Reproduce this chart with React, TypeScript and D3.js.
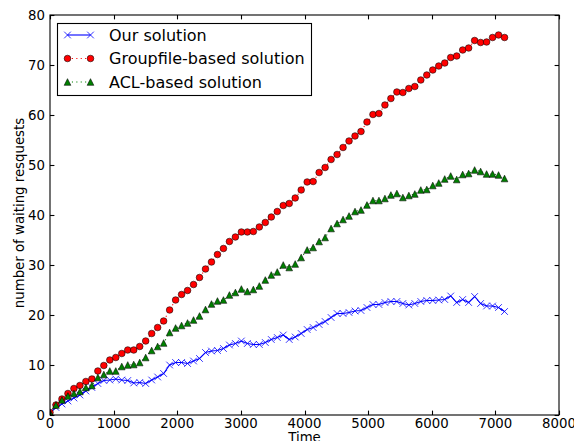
import { useEffect, useRef } from "react";
import * as d3 from "d3";

// sampling interval of the measurements (time units between points)
const timeStep = 94;

const ourSolution = [
  0.5, 1.5, 2.2, 2.8, 3.4, 4.0, 4.8, 5.5, 6.3, 6.9, 7.0, 7.2, 7.0, 6.9, 6.4, 6.5,
  6.3, 7.0, 7.6, 8.3, 10.0, 10.5, 10.5, 10.3, 10.8, 11.3, 12.5, 12.8, 12.9, 13.3,
  14.0, 14.3, 14.8, 14.3, 14.1, 14.1, 14.5, 15.1, 15.5, 16.0, 15.1, 15.6, 16.3,
  17.1, 17.5, 18.1, 18.7, 19.5, 20.3, 20.3, 20.5, 20.8, 20.9, 21.5, 22.1, 22.1,
  22.5, 22.7, 22.7, 22.3, 22.0, 22.3, 22.7, 22.9, 22.9, 23.0, 23.1, 23.8, 22.5,
  23.1, 22.5, 23.7, 22.3, 21.8, 21.8, 21.5, 20.7,
];

const groupfileSolution = [
  0.5, 2.0, 3.2, 4.3, 5.3, 5.9, 6.7, 7.2, 8.8, 9.9, 11.0, 11.5, 12.3, 13.0, 13.0,
  13.7, 14.8, 16.3, 17.5, 18.8, 21.0, 23.0, 24.1, 24.9, 26.1, 27.5, 29.2, 30.6,
  32.1, 33.3, 34.7, 35.6, 36.6, 36.6, 36.7, 37.6, 38.5, 39.6, 40.7, 41.9, 42.3,
  43.4, 45.0, 46.6, 46.7, 48.5, 49.5, 51.1, 52.1, 53.5, 54.8, 55.8, 56.7, 58.6,
  60.1, 60.3, 62.0, 63.3, 64.6, 64.5, 65.3, 65.7, 67.0, 68.0, 69.0, 69.8, 70.4,
  71.5, 71.8, 73.0, 73.4, 74.9, 74.5, 74.6, 75.5, 76.0, 75.5,
];

const aclSolution = [
  0.5, 2.0, 3.0, 3.8, 4.3, 4.7, 5.5, 5.9, 7.5, 8.1, 8.8, 8.8, 9.7, 10.0, 10.1,
  10.5, 11.5, 12.9, 13.7, 14.4, 16.5, 17.4, 17.9, 18.4, 19.0, 19.8, 21.1, 22.2,
  22.8, 23.0, 24.0, 24.5, 25.2, 24.7, 25.1, 25.8, 27.0, 28.0, 28.6, 30.0, 29.5,
  30.2, 31.5, 33.0, 33.5, 34.7, 35.5, 37.3, 38.3, 39.1, 39.8, 40.7, 41.0, 42.0,
  42.9, 42.9, 43.3, 44.0, 44.3, 43.5, 43.9, 44.2, 45.0, 45.1, 45.9, 46.4, 47.2,
  47.8, 47.1, 48.1, 48.3, 49.0, 48.7, 48.2, 48.2, 48.0, 47.3,
];

const seriesNames = ["Our solution", "Groupfile-based solution", "ACL-based solution"];
const xTicks = [0, 1000, 2000, 3000, 4000, 5000, 6000, 7000, 8000];
const yTicks = [0, 10, 20, 30, 40, 50, 60, 70, 80];

type Marker = "x" | "o" | "^";
type Series = { name: string; values: number[]; color: string; marker: Marker; dash: string | null };

const FONT = "'DejaVu Sans', sans-serif";

function drawMarker(
  g: d3.Selection<SVGGElement, unknown, null, undefined>,
  kind: Marker,
  cx: number,
  cy: number,
  color: string
) {
  const r = 3.33;
  if (kind === "x") {
    g.append("path")
      .attr("d", `M${cx - r},${cy - r}L${cx + r},${cy + r}M${cx - r},${cy + r}L${cx + r},${cy - r}`)
      .attr("stroke", color)
      .attr("stroke-width", 0.8)
      .attr("fill", "none");
  } else if (kind === "o") {
    g.append("circle")
      .attr("cx", cx)
      .attr("cy", cy)
      .attr("r", r)
      .attr("fill", color)
      .attr("stroke", "#000")
      .attr("stroke-width", 0.55);
  } else {
    g.append("path")
      .attr("d", `M${cx},${cy - r}L${cx - r},${cy + r}L${cx + r},${cy + r}Z`)
      .attr("fill", color)
      .attr("stroke", "#000")
      .attr("stroke-width", 0.55);
  }
}

function WaitingChart() {
  const ref = useRef<SVGSVGElement>(null);

  useEffect(() => {
    if (!ref.current) return;
    const width = 574;
    const height = 441;
    const margin = { top: 15, right: 15, bottom: 26, left: 50 };
    const innerWidth = width - margin.left - margin.right;
    const innerHeight = height - margin.top - margin.bottom;

    const root = d3.select(ref.current);
    root.selectAll("*").remove();
    root.attr("width", width).attr("height", height);

    root.append("rect").attr("width", width).attr("height", height).attr("fill", "#fff");

    const svg = root.append("g").attr("transform", `translate(${margin.left},${margin.top})`);

    const x = d3.scaleLinear().domain([0, 8000]).range([0, innerWidth]);
    const y = d3.scaleLinear().domain([0, 80]).range([innerHeight, 0]);

    svg
      .append("clipPath")
      .attr("id", "plot-clip")
      .append("rect")
      .attr("width", innerWidth)
      .attr("height", innerHeight);

    const series: Series[] = [
      { name: seriesNames[0], values: ourSolution, color: "#0000ff", marker: "x", dash: null },
      { name: seriesNames[1], values: groupfileSolution, color: "#ff0000", marker: "o", dash: "1.1,3.3" },
      { name: seriesNames[2], values: aclSolution, color: "#008000", marker: "^", dash: "1.1,3.3" },
    ];

    const plot = svg.append("g").attr("clip-path", "url(#plot-clip)");

    series.forEach((s) => {
      const pts: [number, number][] = s.values.map((v, i) => [i * timeStep, v]);
      const line = d3
        .line<[number, number]>()
        .x((d) => x(d[0]))
        .y((d) => y(d[1]));
      plot
        .append("path")
        .datum(pts)
        .attr("fill", "none")
        .attr("stroke", s.color)
        .attr("stroke-width", 1.1)
        .attr("stroke-dasharray", s.dash)
        .attr("d", line);
      const mg = plot.append("g");
      pts.forEach((d) => drawMarker(mg, s.marker, x(d[0]), y(d[1]), s.color));
    });

    // frame and inward ticks on all four sides
    const tickLen = 4.4;
    const frame = svg.append("g").attr("stroke", "#000").attr("stroke-width", 1.1);
    xTicks.forEach((t) => {
      const px = Math.round(x(t)) + 0.5;
      frame.append("line").attr("x1", px).attr("x2", px).attr("y1", innerHeight).attr("y2", innerHeight - tickLen);
      frame.append("line").attr("x1", px).attr("x2", px).attr("y1", 0).attr("y2", tickLen);
    });
    yTicks.forEach((t) => {
      const py = Math.round(y(t)) + 0.5;
      frame.append("line").attr("x1", 0).attr("x2", tickLen).attr("y1", py).attr("y2", py);
      frame.append("line").attr("x1", innerWidth).attr("x2", innerWidth - tickLen).attr("y1", py).attr("y2", py);
    });
    frame
      .append("rect")
      .attr("x", 0)
      .attr("y", 0)
      .attr("width", innerWidth)
      .attr("height", innerHeight)
      .attr("fill", "none");

    const labels = svg.append("g").attr("font-family", FONT).attr("font-size", 13.3).attr("fill", "#000");
    xTicks.forEach((t) => {
      labels
        .append("text")
        .attr("x", x(t))
        .attr("y", innerHeight + 12.5)
        .attr("text-anchor", "middle")
        .text(String(t));
    });
    yTicks.forEach((t) => {
      labels
        .append("text")
        .attr("x", -5)
        .attr("y", y(t) + 4.8)
        .attr("text-anchor", "end")
        .text(String(t));
    });

    labels
      .append("text")
      .attr("x", innerWidth / 2)
      .attr("y", innerHeight + 27)
      .attr("text-anchor", "middle")
      .text("Time");

    labels
      .append("text")
      .attr("transform", `translate(${24 - margin.left},${innerHeight / 2 - 2}) rotate(-90)`)
      .attr("text-anchor", "middle")
      .text("number of waiting resquests");

    // legend
    const legend = root.append("g");
    legend
      .append("rect")
      .attr("x", 57.5)
      .attr("y", 23.5)
      .attr("width", 254)
      .attr("height", 72)
      .attr("fill", "#fff")
      .attr("stroke", "#000")
      .attr("stroke-width", 1.1);

    series.forEach((s, i) => {
      const cy = 35 + i * 23.5;
      legend
        .append("line")
        .attr("x1", 67.5)
        .attr("x2", 90.5)
        .attr("y1", cy)
        .attr("y2", cy)
        .attr("stroke", s.color)
        .attr("stroke-width", 1.1)
        .attr("stroke-dasharray", s.dash);
      drawMarker(legend, s.marker, 67.5, cy, s.color);
      drawMarker(legend, s.marker, 90.5, cy, s.color);
      legend
        .append("text")
        .attr("x", 109)
        .attr("y", cy + 5.8)
        .attr("font-family", FONT)
        .attr("font-size", 16)
        .attr("fill", "#000")
        .text(s.name);
    });
  }, []);

  return <svg ref={ref} style={{ position: "absolute", left: 0, top: 0, display: "block" }} />;
}

export default function App() {
  return <WaitingChart />;
}
